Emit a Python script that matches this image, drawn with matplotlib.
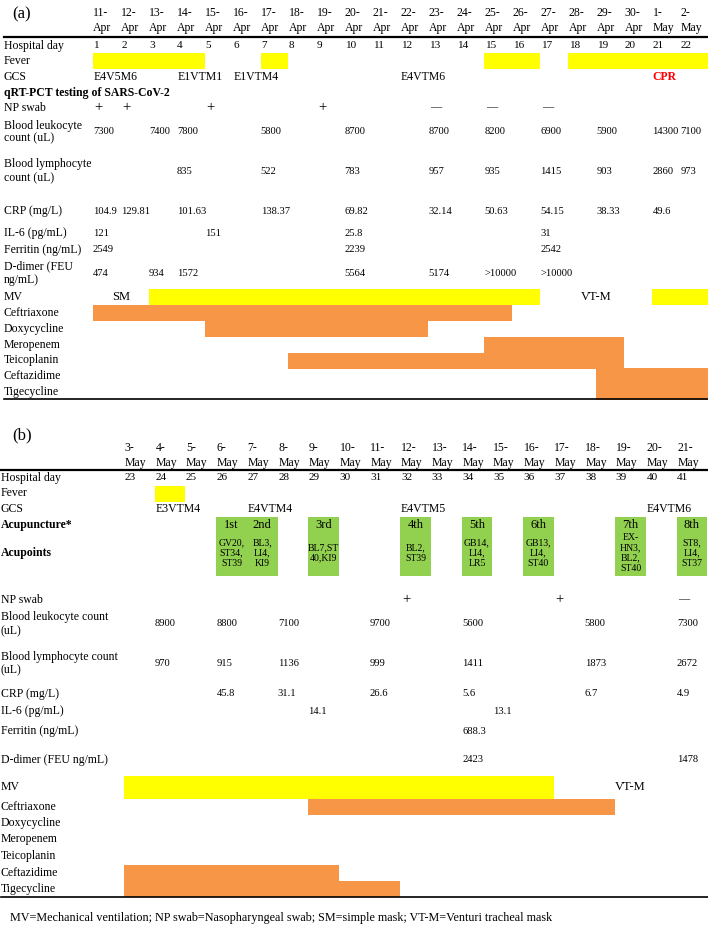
import matplotlib.pyplot as plt

plt.rcParams["font.family"] = ["Liberation Serif", "DejaVu Serif"]

YELLOW = "#FFFF00"
ORANGE = "#F79646"
GREEN = "#92D050"
FS = 8.5      # labels, dates, GCS
FS_VAL = 7.6  # lab values and day numbers

# ---------------- panel (a) data ----------------
dates_a = ["11-Apr", "12-Apr", "13-Apr", "14-Apr", "15-Apr", "16-Apr", "17-Apr", "18-Apr",
           "19-Apr", "20-Apr", "21-Apr", "22-Apr", "23-Apr", "24-Apr", "25-Apr", "26-Apr",
           "27-Apr", "28-Apr", "29-Apr", "30-Apr", "1-May", "2-May"]
hosp_day_a = [1, 2, 3, 4, 5, 6, 7, 8, 9, 10, 11, 12, 13, 14, 15, 16, 17, 18, 19, 20, 21, 22]
fever_a = [("11-Apr", "14-Apr"), ("17-Apr", "17-Apr"), ("25-Apr", "26-Apr"), ("28-Apr", "2-May")]
gcs_a = {"11-Apr": "E4V5M6", "14-Apr": "E1VTM1", "16-Apr": "E1VTM4", "22-Apr": "E4VTM6"}
np_swab_a = {"11-Apr": "+", "12-Apr": "+", "15-Apr": "+", "19-Apr": "+",
             "23-Apr": "—", "25-Apr": "—", "27-Apr": "—"}
leuko_a = {"11-Apr": 7300, "13-Apr": 7400, "14-Apr": 7800, "17-Apr": 5800, "20-Apr": 8700,
           "23-Apr": 8700, "25-Apr": 8200, "27-Apr": 6900, "29-Apr": 5900, "1-May": 14300,
           "2-May": 7100}
lympho_a = {"14-Apr": 835, "17-Apr": 522, "20-Apr": 783, "23-Apr": 957, "25-Apr": 935,
            "27-Apr": 1415, "29-Apr": 903, "1-May": 2860, "2-May": 973}
crp_a = {"11-Apr": 104.9, "12-Apr": 129.81, "14-Apr": 101.63, "17-Apr": 138.37,
         "20-Apr": 69.82, "23-Apr": 32.14, "25-Apr": 50.63, "27-Apr": 54.15,
         "29-Apr": 38.33, "1-May": 49.6}
il6_a = {"11-Apr": 121, "15-Apr": 151, "20-Apr": 25.8, "27-Apr": 31}
ferritin_a = {"11-Apr": 2549, "20-Apr": 2239, "27-Apr": 2542}
ddimer_a = {"11-Apr": 474, "13-Apr": 934, "14-Apr": 1572, "20-Apr": 5564, "23-Apr": 5174,
            "25-Apr": ">10000", "27-Apr": ">10000"}
mv_a = [("13-Apr", "26-Apr"), ("1-May", "2-May")]
mv_notes_a = [("SM", "11-Apr", "12-Apr"), ("VT-M", "27-Apr", "30-Apr")]
drugs_a = {"Ceftriaxone": [("11-Apr", "25-Apr")], "Doxycycline": [("15-Apr", "22-Apr")],
           "Meropenem": [("25-Apr", "29-Apr")], "Teicoplanin": [("18-Apr", "29-Apr")],
           "Ceftazidime": [("29-Apr", "2-May")], "Tigecycline": [("29-Apr", "2-May")]}

# ---------------- panel (b) data ----------------
dates_b = ["3-May", "4-May", "5-May", "6-May", "7-May", "8-May", "9-May", "10-May", "11-May",
           "12-May", "13-May", "14-May", "15-May", "16-May", "17-May", "18-May", "19-May",
           "20-May", "21-May"]
hosp_day_b = [23, 24, 25, 26, 27, 28, 29, 30, 31, 32, 33, 34, 35, 36, 37, 38, 39, 40, 41]
fever_b = [("4-May", "4-May")]
gcs_b = {"4-May": "E3VTM4", "7-May": "E4VTM4", "12-May": "E4VTM5", "20-May": "E4VTM6"}
acu_sessions = ["1st", "2nd", "3rd", "4th", "5th", "6th", "7th", "8th"]
acu_dates = ["6-May", "7-May", "9-May", "12-May", "14-May", "16-May", "19-May", "21-May"]
acu_points = ["GV20,\nST34,\nST39", "BL3,\nLI4,\nKI9", "BL7,ST\n40,KI9", "BL2,\nST39",
              "GB14,\nLI4,\nLR5", "GB13,\nLI4,\nST40", "EX-\nHN3,\nBL2,\nST40",
              "ST8,\nLI4,\nST37"]
np_swab_b = {"12-May": "+", "17-May": "+", "21-May": "—"}
leuko_b = {"4-May": 8900, "6-May": 8800, "8-May": 7100, "11-May": 9700, "14-May": 5600,
           "18-May": 5800, "21-May": 7300}
lympho_b = {"4-May": 970, "6-May": 915, "8-May": 1136, "11-May": 999, "14-May": 1411,
            "18-May": 1873, "21-May": 2672}
crp_b = {"6-May": 45.8, "8-May": 31.1, "11-May": 26.6, "14-May": 5.6, "18-May": 6.7,
         "21-May": 4.9}
il6_b = {"9-May": 14.1, "15-May": 13.1}
ferritin_b = {"14-May": 688.3}
ddimer_b = {"14-May": 2423, "21-May": 1478}
mv_b = [("3-May", "16-May")]
mv_notes_b = [("VT-M", "17-May", "21-May")]
drugs_b = {"Ceftriaxone": [("9-May", "18-May")], "Doxycycline": [], "Meropenem": [],
           "Teicoplanin": [], "Ceftazidime": [("3-May", "9-May")],
           "Tigecycline": [("3-May", "11-May")]}

# ---------------- layout (row centres, in pixels from the top) ----------------
rows_a = {"head": 20.5, "day": 46, "fever": 61, "gcs": 77, "qrt": 93, "np": 108,
          "leuko": 132, "lympho": 171, "crp": 211, "il6": 233, "ferritin": 250,
          "ddimer": 273, "mv": 297, "Ceftriaxone": 313, "Doxycycline": 329,
          "Meropenem": 345, "Teicoplanin": 360.5, "Ceftazidime": 376, "Tigecycline": 391.5}
rows_b = {"head": 455.5, "day": 478, "fever": 493.5, "gcs": 509, "acu": 525, "points": 553,
          "np": 600, "leuko": 624, "lympho": 663.5, "crp": 694, "il6": 711, "ferritin": 731,
          "ddimer": 760, "mv": 787.5, "Ceftriaxone": 806.5, "Doxycycline": 823,
          "Meropenem": 839, "Teicoplanin": 856, "Ceftazidime": 873, "Tigecycline": 889}

W, H = 708, 925
fig = plt.figure(figsize=(W / 100, H / 100), dpi=100)
fig.patch.set_facecolor("white")


def make_axes(first_px, col_px):
    ax = fig.add_axes([0, 0, 1, 1])
    ax.set_xlim(-first_px / col_px, (W - first_px) / col_px)
    ax.set_ylim(H, 0)
    ax.set_axis_off()
    ax.patch.set_alpha(0)
    return ax


def draw_panel(ax, dates, days, rows, fever, gcs, swab, labs, mv, mv_notes, drugs,
               labels, label_x, top_line, bottom_line, mv_h):
    idx = {d: i for i, d in enumerate(dates)}
    lt = ax.get_yaxis_transform()

    # header dates and hospital days
    for i, d in enumerate(dates):
        day, mon = d.split("-")
        ax.text(i + 0.02, rows["head"], f"{day}-\n{mon}", fontsize=FS, va="center",
                ha="left", linespacing=1.3)
        ax.text(i + 0.02, rows["day"], str(days[i]), fontsize=FS_VAL + 0.5, va="center",
                ha="left")
    ax.axhline(top_line, xmin=label_x, xmax=1, color="black", lw=1.6)
    ax.axhline(bottom_line, xmin=label_x, xmax=1, color="black", lw=1.2)

    # row labels
    for key, (txt, bold, ls) in labels.items():
        ax.text(label_x, rows[key], txt, transform=lt, fontsize=FS, va="center", ha="left",
                fontweight="bold" if bold else "normal", linespacing=ls)

    # fever bars
    for s, e in fever:
        ax.barh(rows["fever"], idx[e] + 1 - idx[s], left=idx[s], height=16,
                color=YELLOW, edgecolor="none")

    # GCS
    for d, txt in gcs.items():
        ax.text(idx[d] + 0.02, rows["gcs"], txt, fontsize=FS, va="center", ha="left")

    # NP swab
    for d, txt in swab.items():
        size = FS + 2 if txt == "+" else FS - 0.5
        ax.text(idx[d] + 0.05, rows["np"], txt, fontsize=size, va="center", ha="left")

    # lab values
    for key, vals in labs.items():
        for d, v in vals.items():
            ax.text(idx[d] + 0.01, rows[key], str(v), fontsize=FS_VAL, va="center",
                    ha="left")

    # mechanical ventilation
    for s, e in mv:
        ax.barh(rows["mv"], idx[e] + 1 - idx[s], left=idx[s], height=mv_h,
                color=YELLOW, edgecolor="none")
    for txt, s, e in mv_notes:
        ax.text((idx[s] + idx[e] + 1) / 2, rows["mv"], txt, fontsize=FS + 0.5,
                va="center", ha="center")

    # antibiotics
    for drug, spans in drugs.items():
        for s, e in spans:
            ax.barh(rows[drug], idx[e] + 1 - idx[s], left=idx[s], height=16,
                    color=ORANGE, edgecolor="none")
    return idx


# ---------------- panel (a) ----------------
ax_a = make_axes(92.7, 27.97)
labels_a = {"day": ("Hospital day", False, 1.2), "fever": ("Fever", False, 1.2),
            "gcs": ("GCS", False, 1.2), "qrt": ("qRT-PCT testing of SARS-CoV-2", True, 1.2),
            "np": ("NP swab", False, 1.2), "leuko": ("Blood leukocyte\ncount (uL)", False, 1.1),
            "lympho": ("Blood lymphocyte\ncount (uL)", False, 1.2),
            "crp": ("CRP (mg/L)", False, 1.2), "il6": ("IL-6 (pg/mL)", False, 1.2),
            "ferritin": ("Ferritin (ng/mL)", False, 1.2),
            "ddimer": ("D-dimer (FEU\nng/mL)", False, 1.2), "mv": ("MV", False, 1.2)}
labels_a.update({k: (k, False, 1.2) for k in drugs_a})
idx_a = draw_panel(ax_a, dates_a, hosp_day_a, rows_a, fever_a, gcs_a, np_swab_a,
                   {"leuko": leuko_a, "lympho": lympho_a, "crp": crp_a, "il6": il6_a,
                    "ferritin": ferritin_a, "ddimer": ddimer_a},
                   mv_a, mv_notes_a, drugs_a, labels_a, 0.005, 37, 399, 16)
ax_a.text(idx_a["1-May"] + 0.02, rows_a["gcs"], "CPR", fontsize=FS, fontweight="bold",
          color="red", va="center", ha="left")
ax_a.text(0.017, 14, "(a)", transform=ax_a.get_yaxis_transform(), fontsize=12,
          va="center", ha="left")

# ---------------- panel (b) ----------------
ax_b = make_axes(124, 30.7)
labels_b = {"day": ("Hospital day", False, 1.2), "fever": ("Fever", False, 1.2),
            "gcs": ("GCS", False, 1.2), "acu": ("Acupuncture*", True, 1.2),
            "points": ("Acupoints", True, 1.2), "np": ("NP swab", False, 1.2),
            "leuko": ("Blood leukocyte count\n(uL)", False, 1.2),
            "lympho": ("Blood lymphocyte count\n(uL)", False, 1.2),
            "crp": ("CRP (mg/L)", False, 1.2), "il6": ("IL-6 (pg/mL)", False, 1.2),
            "ferritin": ("Ferritin (ng/mL)", False, 1.2),
            "ddimer": ("D-dimer (FEU ng/mL)", False, 1.2), "mv": ("MV", False, 1.2)}
labels_b.update({k: (k, False, 1.2) for k in drugs_b})
idx_b = draw_panel(ax_b, dates_b, hosp_day_b, rows_b, fever_b, gcs_b, np_swab_b,
                   {"leuko": leuko_b, "lympho": lympho_b, "crp": crp_b, "il6": il6_b,
                    "ferritin": ferritin_b, "ddimer": ddimer_b},
                   mv_b, mv_notes_b, drugs_b, labels_b, 0.001, 470, 897, 23)

# acupuncture sessions
box_top, box_bottom = 517, 576
for sess, d, pts in zip(acu_sessions, acu_dates, acu_points):
    i = idx_b[d]
    ax_b.barh((box_top + box_bottom) / 2, 1, left=i, height=box_bottom - box_top,
              color=GREEN, edgecolor="none")
    ax_b.text(i + 0.5, rows_b["acu"], sess, fontsize=FS + 0.5, ha="center", va="center")
    ax_b.text(i + 0.5, rows_b["points"], pts, fontsize=7, ha="center", va="center",
              linespacing=1.2)
ax_b.text(0.017, 435, "(b)", transform=ax_b.get_yaxis_transform(), fontsize=12,
          va="center", ha="left")

fig.text(10 / W, 1 - 918 / H,
         "MV=Mechanical ventilation; NP swab=Nasopharyngeal swab; SM=simple mask; "
         "VT-M=Venturi tracheal mask", fontsize=8.7, va="center", ha="left")

fig.savefig("out.png", dpi=100, facecolor="white")
